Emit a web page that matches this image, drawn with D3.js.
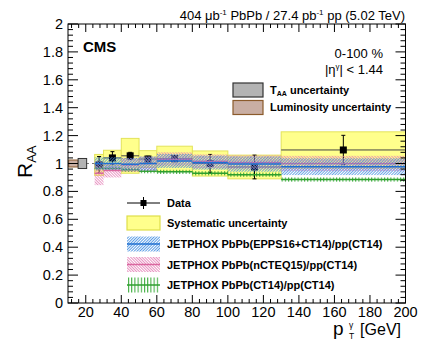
<!DOCTYPE html>
<meta charset="utf-8">
<head>
<style>
  body { margin: 0; background: #fff; }
  svg text { font-family: "Liberation Sans", Arial, Helvetica, sans-serif; }
  .leg { font-weight: bold; font-size: 11px; }
</style>
</head>
<script src="https://d3js.org/d3.v7.min.js"></script>
<svg id="chart" width="427" height="344"></svg>
<script>
// bins in pT (GeV)
const binEdges = [25, 30, 40, 50, 60, 80, 100, 130, 200]
const ptCenters = [27.5, 35, 45, 55, 70, 90, 115, 165]
// measured RAA, statistical and systematic uncertainty
const raa = [0.99, 1.04, 1.055, 1.032, 1.034, 1.0, 0.975, 1.097]
const statErr = [0.06, 0.045, 0.025, 0.02, 0.02, 0.065, 0.085, 0.105]
const sysErr = [0.075, 0.055, 0.125, 0.06, 0.09, 0.09, 0.085, 0.13]
// JETPHOX predictions
const epps16 = [1.0, 1.0, 0.995, 1.0, 1.018, 1.006, 0.996, 0.977]
const epps16Err = [0.045, 0.045, 0.045, 0.05, 0.05, 0.05, 0.055, 0.06]
const ncteq15 = [0.93, 0.95, 0.99, 1.0, 1.03, 1.015, 1.008, 1.0]
const ncteq15Err = [0.085, 0.05, 0.05, 0.05, 0.05, 0.05, 0.05, 0.055]
const ct14 = [0.965, 0.965, 0.955, 0.945, 0.94, 0.93, 0.92, 0.885]
const ct14Err = [0.015, 0.015, 0.015, 0.015, 0.015, 0.015, 0.015, 0.015]
// global uncertainties at RAA = 1
const taaUnc = 0.036
const lumiUnc = 0.025

const xTicks = [20, 40, 60, 80, 100, 120, 140, 160, 180, 200]
const yTicks = [0, 0.2, 0.4, 0.6, 0.8, 1, 1.2, 1.4, 1.6, 1.8, 2]

const svg = d3.select("#chart")
const x = d3.scaleLinear().domain([10, 200]).range([68, 405.5])
const y = d3.scaleLinear().domain([0, 2]).range([303, 24])

// hatch patterns
const defs = svg.append("defs")
function hatch(id, color, angle, gap, w) {
  const p = defs.append("pattern").attr("id", id)
    .attr("patternUnits", "userSpaceOnUse")
    .attr("width", gap).attr("height", gap)
    .attr("patternTransform", "rotate(" + angle + ")")
  p.append("line").attr("x1", 0.5).attr("y1", 0).attr("x2", 0.5).attr("y2", gap)
    .attr("stroke", color).attr("stroke-width", w)
}
hatch("hBlue", "#3d8be0", 45, 2, 1)
hatch("hPink", "#e47fb6", -45, 2, 1)
hatch("hGreen", "#33a833", 0, 3.2, 1.1)

// dashed line at unity
svg.append("line")
  .attr("x1", x(10)).attr("x2", x(200)).attr("y1", y(1)).attr("y2", y(1))
  .attr("stroke", "#555").attr("stroke-dasharray", "3,3").attr("stroke-width", 0.8)

// global uncertainty boxes
svg.append("rect")
  .attr("x", x(10.4)).attr("width", x(15.7) - x(10.4))
  .attr("y", y(1 + lumiUnc)).attr("height", y(1 - lumiUnc) - y(1 + lumiUnc))
  .attr("fill", "#c9aea3").attr("stroke", "#8b5a2b").attr("stroke-width", 1)
svg.append("rect")
  .attr("x", x(15.7)).attr("width", x(20.5) - x(15.7))
  .attr("y", y(1 + taaUnc)).attr("height", y(1 - taaUnc) - y(1 + taaUnc))
  .attr("fill", "#b3b3b3").attr("stroke", "#333").attr("stroke-width", 1)

// systematic boxes
const idx = d3.range(raa.length)
svg.append("g").selectAll("rect").data(idx).join("rect")
  .attr("x", i => x(binEdges[i]))
  .attr("width", i => x(binEdges[i + 1]) - x(binEdges[i]))
  .attr("y", i => y(raa[i] + sysErr[i]))
  .attr("height", i => y(raa[i] - sysErr[i]) - y(raa[i] + sysErr[i]))
  .attr("fill", "#ffff8c").attr("stroke", "#e3e35a").attr("stroke-width", 1)

// data points
const dg = svg.append("g").attr("stroke", "#000").attr("stroke-width", 1)
idx.forEach(i => {
  dg.append("line").attr("x1", x(binEdges[i])).attr("x2", x(binEdges[i + 1]))
    .attr("y1", y(raa[i])).attr("y2", y(raa[i])).attr("stroke", "#444")
  dg.append("line").attr("x1", x(ptCenters[i])).attr("x2", x(ptCenters[i]))
    .attr("y1", y(raa[i] + statErr[i])).attr("y2", y(raa[i] - statErr[i]))
  ;[raa[i] + statErr[i], raa[i] - statErr[i]].forEach(v => {
    dg.append("line").attr("x1", x(ptCenters[i]) - 2).attr("x2", x(ptCenters[i]) + 2)
      .attr("y1", y(v)).attr("y2", y(v))
  })
  dg.append("rect").attr("x", x(ptCenters[i]) - 3.5).attr("y", y(raa[i]) - 3.5)
    .attr("width", 7).attr("height", 7).attr("fill", "#000").attr("stroke", "none")
})

// theory bands
function band(vals, errs, pat, color, opac) {
  const g = svg.append("g")
  g.selectAll("rect").data(idx).join("rect")
    .attr("x", i => x(binEdges[i]))
    .attr("width", i => x(binEdges[i + 1]) - x(binEdges[i]))
    .attr("y", i => y(vals[i] + errs[i]))
    .attr("height", i => y(vals[i] - errs[i]) - y(vals[i] + errs[i]))
    .attr("fill", "url(#" + pat + ")").attr("opacity", opac)
  g.selectAll("line").data(idx).join("line")
    .attr("x1", i => x(binEdges[i])).attr("x2", i => x(binEdges[i + 1]))
    .attr("y1", i => y(vals[i])).attr("y2", i => y(vals[i]))
    .attr("stroke", color).attr("stroke-width", 1.5)
}
band(ct14, ct14Err, "hGreen", "#2e9e2e", 0.95)
band(ncteq15, ncteq15Err, "hPink", "#d9679f", 0.8)
band(epps16, epps16Err, "hBlue", "#1f6fd0", 0.75)

// frame and axes
svg.append("rect").attr("x", x(10)).attr("y", y(2))
  .attr("width", x(200) - x(10)).attr("height", y(0) - y(2))
  .attr("fill", "none").attr("stroke", "#000").attr("stroke-width", 1)

const xMinor = d3.range(12, 200.1, 4)
const yMinor = d3.range(0, 2.001, 0.04)
const tk = svg.append("g").attr("stroke", "#000").attr("stroke-width", 1)
xMinor.forEach(v => {
  const major = xTicks.includes(Math.round(v))
  const len = major ? 8 : 4
  tk.append("line").attr("x1", x(v)).attr("x2", x(v)).attr("y1", y(0)).attr("y2", y(0) - len)
  tk.append("line").attr("x1", x(v)).attr("x2", x(v)).attr("y1", y(2)).attr("y2", y(2) + len)
})
yMinor.forEach(v => {
  const major = Math.abs(v * 5 - Math.round(v * 5)) < 1e-6
  const len = major ? 10 : 5
  tk.append("line").attr("x1", x(10)).attr("x2", x(10) + len).attr("y1", y(v)).attr("y2", y(v))
  tk.append("line").attr("x1", x(200)).attr("x2", x(200) - len).attr("y1", y(v)).attr("y2", y(v))
})

svg.append("g").selectAll("text").data(xTicks).join("text")
  .attr("x", d => x(d)).attr("y", 317).attr("text-anchor", "middle")
  .attr("font-size", 14.5).text(d => d)
svg.append("g").selectAll("text").data(yTicks).join("text")
  .attr("x", 63).attr("y", d => y(d) + 5).attr("text-anchor", "end")
  .attr("font-size", 14.5).text(d => d)

// axis titles
const yt = svg.append("text").attr("transform", "translate(32,178) rotate(-90)")
  .attr("font-size", 21)
yt.append("tspan").text("R")
yt.append("tspan").attr("font-size", 13).attr("dy", 4).text("AA")

svg.append("text").attr("x", 333).attr("y", 335).attr("font-size", 19).text("p")
svg.append("text").attr("x", 349).attr("y", 328).attr("font-size", 8.5).text("γ")
svg.append("text").attr("x", 349).attr("y", 339).attr("font-size", 8.5).text("T")
svg.append("text").attr("x", 401).attr("y", 335).attr("text-anchor", "end")
  .attr("font-size", 16).text("[GeV]")

// header texts
const ht = svg.append("text").attr("x", 405).attr("y", 20).attr("text-anchor", "end")
  .attr("font-size", 13)
ht.append("tspan").text("404 μb")
ht.append("tspan").attr("font-size", 8).attr("dy", -5).text("-1")
ht.append("tspan").attr("dy", 5).text(" PbPb / 27.4 pb")
ht.append("tspan").attr("font-size", 8).attr("dy", -5).text("-1")
ht.append("tspan").attr("dy", 5).text(" pp (5.02 TeV)")

svg.append("text").attr("x", 83).attr("y", 52).attr("font-size", 15)
  .attr("font-weight", "bold").text("CMS")
svg.append("text").attr("x", 383).attr("y", 58).attr("text-anchor", "end")
  .attr("font-size", 13).text("0-100 %")
const eta = svg.append("text").attr("x", 383).attr("y", 74).attr("text-anchor", "end")
  .attr("font-size", 13)
eta.append("tspan").text("|η")
eta.append("tspan").attr("font-size", 8).attr("dy", -5).text("γ")
eta.append("tspan").attr("dy", 5).text("| < 1.44")

// top legend
svg.append("rect").attr("x", 233).attr("y", 83).attr("width", 30).attr("height", 14)
  .attr("fill", "#b3b3b3").attr("stroke", "#333").attr("stroke-width", 1.2)
svg.append("rect").attr("x", 233).attr("y", 100.5).attr("width", 30).attr("height", 14)
  .attr("fill", "#c9aea3").attr("stroke", "#8b5a2b").attr("stroke-width", 1.2)
const tl = svg.append("text").attr("class", "leg").attr("x", 270).attr("y", 94)
tl.append("tspan").text("T")
tl.append("tspan").attr("font-size", 7).attr("dy", 2).text("AA")
tl.append("tspan").attr("dy", -2).text(" uncertainty")
svg.append("text").attr("class", "leg").attr("x", 270).attr("y", 111).text("Luminosity uncertainty")

// bottom legend
const lx = 127, lw = 33
const rows = [203, 223, 244, 264.5, 285]
svg.append("line").attr("x1", lx).attr("x2", lx + lw).attr("y1", rows[0]).attr("y2", rows[0])
  .attr("stroke", "#000")
svg.append("line").attr("x1", lx + lw / 2).attr("x2", lx + lw / 2).attr("y1", rows[0] - 6).attr("y2", rows[0] + 6)
  .attr("stroke", "#000")
svg.append("rect").attr("x", lx + lw / 2 - 3).attr("y", rows[0] - 3).attr("width", 6).attr("height", 6)
svg.append("rect").attr("x", lx).attr("y", rows[1] - 7).attr("width", lw).attr("height", 14)
  .attr("fill", "#ffff8c").attr("stroke", "#dede4a").attr("stroke-width", 1.2)
;[["hBlue", "#1f6fd0", 0.85], ["hPink", "#d9679f", 0.85], ["hGreen", "#2e9e2e", 0.95]].forEach((s, k) => {
  const yy = rows[k + 2]
  svg.append("rect").attr("x", lx).attr("y", yy - 7.5).attr("width", lw).attr("height", 15)
    .attr("fill", "url(#" + s[0] + ")").attr("opacity", s[2])
  svg.append("line").attr("x1", lx).attr("x2", lx + lw).attr("y1", yy).attr("y2", yy)
    .attr("stroke", s[1]).attr("stroke-width", 1.5)
})
const labels = ["Data", "Systematic uncertainty", "JETPHOX PbPb(EPPS16+CT14)/pp(CT14)",
  "JETPHOX PbPb(nCTEQ15)/pp(CT14)", "JETPHOX PbPb(CT14)/pp(CT14)"]
svg.append("g").selectAll("text").data(labels).join("text")
  .attr("class", "leg").attr("x", 167).attr("y", (d, i) => rows[i] + 4).text(d => d)
</script>
